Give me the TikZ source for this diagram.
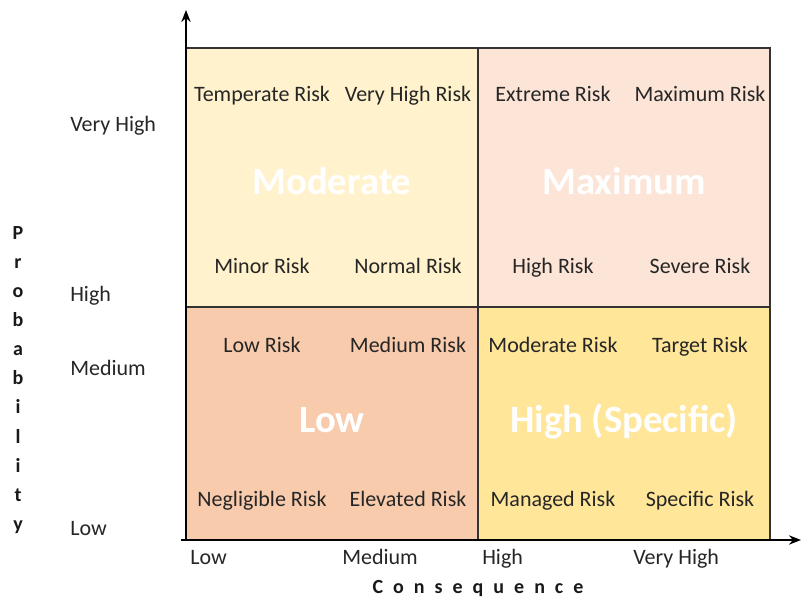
\documentclass[tikz,border=0pt]{standalone}
\usepackage{fontspec}
\setmainfont{Carlito}
\usetikzlibrary{arrows.meta, positioning}

\definecolor{modfill}{HTML}{FFF2CC}
\definecolor{maxfill}{HTML}{FCE4D6}
\definecolor{lowfill}{HTML}{F8CBAD}
\definecolor{highfill}{HTML}{FFE699}

\begin{document}
\begin{tikzpicture}[x=0.75pt, y=-0.75pt,
    quad/.style={draw=black!80, line width=0.8pt},
    cell/.style={font=\fontsize{16.5}{20}\selectfont, text=black!85, inner sep=0pt, anchor=base},
    zone/.style={font=\fontsize{29}{34}\selectfont\bfseries, text=white, inner sep=0pt, anchor=base},
    tick/.style={font=\fontsize{16.5}{20}\selectfont, text=black!85, anchor=base west, inner sep=0pt},
    title/.style={font=\fontsize{15}{21.8}\selectfont\bfseries, text=black!90, inner sep=0pt, align=center},
    axis/.style={line width=1.6pt, -{Stealth[length=9pt, width=7pt]}}
  ]
  \useasboundingbox (0,0) rectangle (801,598);

  % quadrants
  \filldraw[quad, fill=modfill]  (186,48)  rectangle (478,307);
  \filldraw[quad, fill=maxfill]  (478,48)  rectangle (770,307);
  \filldraw[quad, fill=lowfill]  (186,307) rectangle (478,540);
  \filldraw[quad, fill=highfill] (478,307) rectangle (770,540);

  % zone names
  \node[zone] (moderate) at (332,195) {Moderate};
  \node[zone] (maximum)  at (624,195) {Maximum};
  \node[zone] (low)      at (332,433) {Low};
  \node[zone] (high)     at (624,433) {High (Specific)};

  % risk levels in each cell
  \foreach \txt/\x/\y [count=\i] in {
      Temperate Risk/262/102, Very High Risk/408/102, Extreme Risk/553/102, Maximum Risk/700/102,
      Minor Risk/262/274, Normal Risk/408/274, High Risk/553/274, Severe Risk/700/274,
      Low Risk/262/353, Medium Risk/408/353, Moderate Risk/553/353, Target Risk/700/353,
      Negligible Risk/262/507, Elevated Risk/408/507, Managed Risk/553/507, Specific Risk/700/507}
    \node[cell] (risk\i) at (\x,\y) {\txt};

  % axes
  \coordinate (origin) at (186,540);
  \coordinate (ytip) at (186,10);
  \coordinate (xtip) at (801,540);
  \coordinate (xstart) at (181,540);
  \draw[axis] (xstart) -- (xtip);
  \draw[axis] (origin) -- (ytip);

  % probability levels
  \node[tick] (pveryhigh) at (70,132) {Very High};
  \node[tick] (phigh)     at (70,302) {High};
  \node[tick] (pmedium)   at (70,376) {Medium};
  \node[tick] (plow)      at (70,536) {Low};

  % consequence levels
  \node[tick] (clow)      at (190,565) {Low};
  \node[tick] (cmedium)   at (342,565) {Medium};
  \node[tick] (chigh)     at (482,565) {High};
  \node[tick] (cveryhigh) at (633,565) {Very High};

  % axis titles
  \node[title] (probability) at (18,380) {P\\r\\o\\b\\a\\b\\i\\l\\i\\t\\y};
  \node[title, font=\fontsize{15}{18}\selectfont\bfseries\addfontfeature{LetterSpace=50}] (consequence) at (478,589) {Consequence};
\end{tikzpicture}
\end{document}
